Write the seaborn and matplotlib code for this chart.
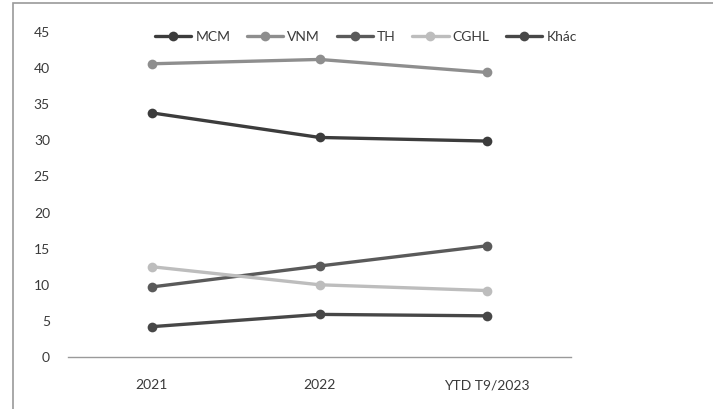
import matplotlib
matplotlib.use("Agg")
import matplotlib.pyplot as plt
import matplotlib.patches as mpatches
import pandas as pd
import seaborn as sns

# Data (market share, %)
periods = ["2021", "2022", "YTD T9/2023"]
brands = ["MCM", "VNM", "TH", "CGHL", "Khác"]
mcm = [33.8, 30.4, 29.9]
vnm = [40.6, 41.2, 39.4]
th = [9.7, 12.6, 15.4]
cghl = [12.5, 10.0, 9.2]
khac = [4.2, 5.9, 5.7]

colors = ["#3c3c3c", "#8e8e8e", "#5a5a5a", "#bdbdbd", "#474747"]

df = pd.DataFrame({
    "period": periods * 5,
    "brand": [b for b in brands for _ in periods],
    "value": mcm + vnm + th + cghl + khac,
})

sns.set_theme(style="white")
plt.rcParams["font.family"] = ["Lato", "DejaVu Sans"]

fig = plt.figure(figsize=(7.13, 4.09), dpi=100)
ax = fig.add_axes([68 / 713, 1 - 357 / 409, (571 - 68) / 713, (357 - 32) / 409])

sns.lineplot(data=df, x="period", y="value", hue="brand", hue_order=brands,
             palette=colors, marker="o", markersize=7, linewidth=2.4,
             markeredgewidth=0, sort=False, legend=False, ax=ax)

ax.set_xlim(-0.5, 2.5)
ax.set_ylim(0, 45)
ax.set_yticks(range(0, 46, 5))
ax.set_xlabel("")
ax.set_ylabel("")
for s in ["top", "right", "left"]:
    ax.spines[s].set_visible(False)
ax.spines["bottom"].set_color("#9a9a9a")
ax.spines["bottom"].set_linewidth(1.0)
ax.tick_params(axis="both", length=0, labelsize=10, colors="#3a3a3a")
ax.tick_params(axis="y", pad=13)
ax.tick_params(axis="x", pad=16)

handles = [plt.Line2D([], [], color=c, marker="o", markersize=7, lw=2.4,
                      markeredgewidth=0) for c in colors]
fig.legend(handles, brands, loc="center", bbox_to_anchor=(366 / 713, 1 - 37 / 409),
           ncol=5, frameon=False, fontsize=10, handlelength=2.6, handletextpad=0.3,
           columnspacing=1.2, labelcolor="#3a3a3a")

# scanned chart border (left and top edges visible)
fig.patches.append(mpatches.Rectangle((13 / 713, -0.05), 1.2, 1.05 - 3 / 409,
                                      transform=fig.transFigure, fill=False,
                                      edgecolor="#9a9a9a", lw=1.2))

fig.savefig("out.png", dpi=100)
